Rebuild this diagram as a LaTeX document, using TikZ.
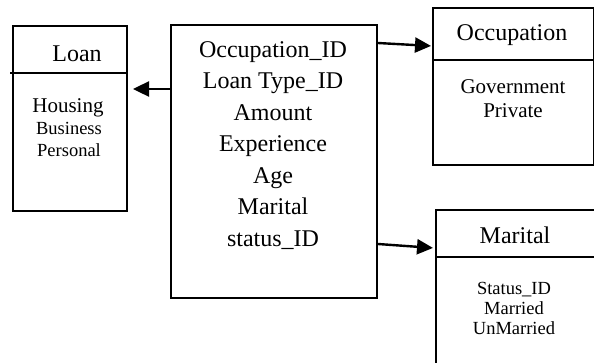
\documentclass[tikz,border=0pt]{standalone}
\usepackage{fontspec}
\setmainfont{Liberation Serif}
\usetikzlibrary{positioning,calc,arrows.meta}
\tikzset{
  box/.style={draw, line width=2pt, anchor=north west, inner sep=0pt},
  rule/.style={line width=1.8pt},
  link/.style={line width=2.4pt, -{Triangle[length=16pt,width=15pt]}, shorten >=1pt},
  title/.style={font=\fontsize{24}{24}\selectfont, anchor=base, inner sep=0pt},
  fields/.style={font=\fontsize{24}{31.5}\selectfont, align=center, anchor=base, inner sep=0pt},
  items/.style={align=center, anchor=base, inner sep=0pt}
}
\begin{document}
\begin{tikzpicture}[x=1pt,y=-1pt]
        \useasboundingbox (0,0) rectangle (594,362);
        \clip (0,0) rectangle (594,362);

        % main record (base = last line)
        \node[box, minimum width=206pt, minimum height=273pt] (main) at (170,24) {};
        \node[fields] (mainfields) at (273,246) {Occupation\_ID\\Loan Type\_ID\\Amount\\Experience\\Age\\Marital\\status\_ID};

        % Loan
        \node[box, minimum width=114pt, minimum height=185pt] (loan) at (12,25) {};
        \draw[rule] (10,73) -- (loan.east |- 0,73); % divider
        \node[title] (loantitle) at (77,61) {Loan};
        \node[items, font=\fontsize{21}{22}\selectfont] (housing) at (68,112) {Housing};
        \node[items, font=\fontsize{18.5}{22}\selectfont] (loanitems) at (69,156) {Business\\Personal};

        % Occupation
        \node[box, minimum width=161pt, minimum height=157pt] (occ) at (432,7) {};
        \draw[rule] (occ.west |- 0,60) -- (occ.east |- 0,60); % divider
        \node[title] (occtitle) at (512,40) {Occupation};
        \node[items, font=\fontsize{21}{24}\selectfont] (occitems) at (513,117) {Government\\Private};

        % Marital
        \node[box, minimum width=170pt, minimum height=170pt] (marital) at (435,209) {};
        \draw[rule] (marital.west |- 0,257) -- (marital.east |- 0,257); % divider
        \node[title] (martitle) at (515,243) {Marital};
        \node[items, font=\fontsize{18.5}{20}\selectfont] (maritems) at (514,334) {Status\_ID\\Married\\UnMarried};

        % links
        \coordinate (loanin) at (132,89);
        \coordinate (occin) at (432,46);
        \coordinate (marin) at (434,248);
        \draw[link] (main.west |- loanin) -- (loanin);
        \draw[link] (main.east |- 0,43) -- (occin);
        \draw[link] (main.east |- 0,244) -- (marin);
\end{tikzpicture}
\end{document}
